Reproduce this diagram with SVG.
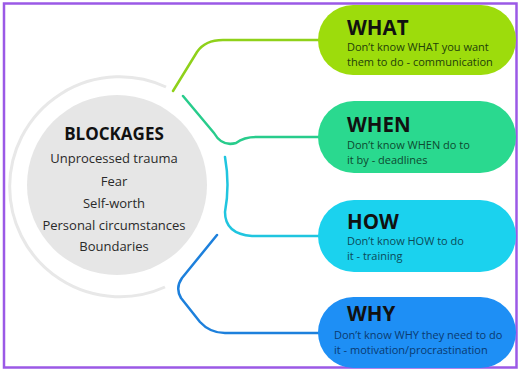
<svg xmlns="http://www.w3.org/2000/svg" width="523" height="375" viewBox="0 0 523 375">
<style>
.title{font-family:"Open Sans","Noto Sans",sans-serif;font-weight:700;font-size:20.5px;fill:#111}
.desc{font-family:"Open Sans","Noto Sans",sans-serif;font-size:11px}
.ctr{font-family:"Open Sans","Noto Sans",sans-serif;font-size:13px;fill:#2a2a2a;text-anchor:middle}
.conn{fill:none;stroke-width:2.5;stroke-linecap:round;stroke-linejoin:round}
</style>
<rect x="0" y="0" width="523" height="375" fill="#fff"/>
<rect x="4" y="3.5" width="512.5" height="364" fill="none" stroke="#9b59e6" stroke-width="2.5"/>
<g id="blockages">
<path d="M166,87 A110,110 0 1 0 165,287" fill="none" stroke="#e8e8e8" stroke-width="3"/>
<circle cx="117" cy="185" r="90" fill="#e6e6e6"/>
<text x="114" y="140" class="ctr" style="font-weight:700;font-size:17px;fill:#111">BLOCKAGES</text>
<text x="114" y="163" class="ctr">Unprocessed trauma</text>
<text x="114" y="186" class="ctr">Fear</text>
<text x="114" y="208" class="ctr">Self-worth</text>
<text x="114" y="230" class="ctr">Personal circumstances</text>
<text x="114" y="251" class="ctr">Boundaries</text>
</g>
<g id="connectors">
<path class="conn" stroke="#8fd11a" d="M173,91 L197,52 Q205,40 223,40 L320,40"/>
<path class="conn" stroke="#28cc8c" d="M183,96 L214,133 Q222,147 236,143 Q244,137 256,137 L320,137"/>
<path class="conn" stroke="#20c5df" d="M225,157 Q230,185 225,212 Q225,234 252,236 L320,236"/>
<path class="conn" stroke="#1d80dc" d="M217,235 L182,278 Q175,288 181,298 L200,322 Q210,333 225,333 L320,333"/>
</g>
<g id="what">
<rect x="318" y="5" width="198" height="70" rx="35" fill="#9ddc0c"/>
<text x="347" y="35" class="title">WHAT</text>
<text x="347" y="51" class="desc" fill="#22400a">Don’t know WHAT you want</text>
<text x="347" y="66" class="desc" fill="#22400a">them to do - communication</text>
</g>
<g id="when">
<rect x="318" y="101" width="198" height="72" rx="36" fill="#2ad98f"/>
<text x="347" y="132" class="title">WHEN</text>
<text x="347" y="149" class="desc" fill="#0d4a30">Don’t know WHEN do to</text>
<text x="347" y="164" class="desc" fill="#0d4a30">it by - deadlines</text>
</g>
<g id="how">
<rect x="318" y="200" width="198" height="72" rx="36" fill="#1bd2ee"/>
<text x="347" y="229" class="title">HOW</text>
<text x="347" y="245" class="desc" fill="#0b4a58">Don’t know HOW to do</text>
<text x="347" y="260" class="desc" fill="#0b4a58">it - training</text>
</g>
<g id="why">
<rect x="318" y="297" width="198" height="71" rx="35.5" fill="#1e8ff5"/>
<text x="347" y="321" class="title">WHY</text>
<text x="334" y="339" class="desc" fill="#0a3a70">Don’t know WHY they need to do</text>
<text x="334" y="354" class="desc" fill="#0a3a70">it - motivation/procrastination</text>
</g>
</svg>
